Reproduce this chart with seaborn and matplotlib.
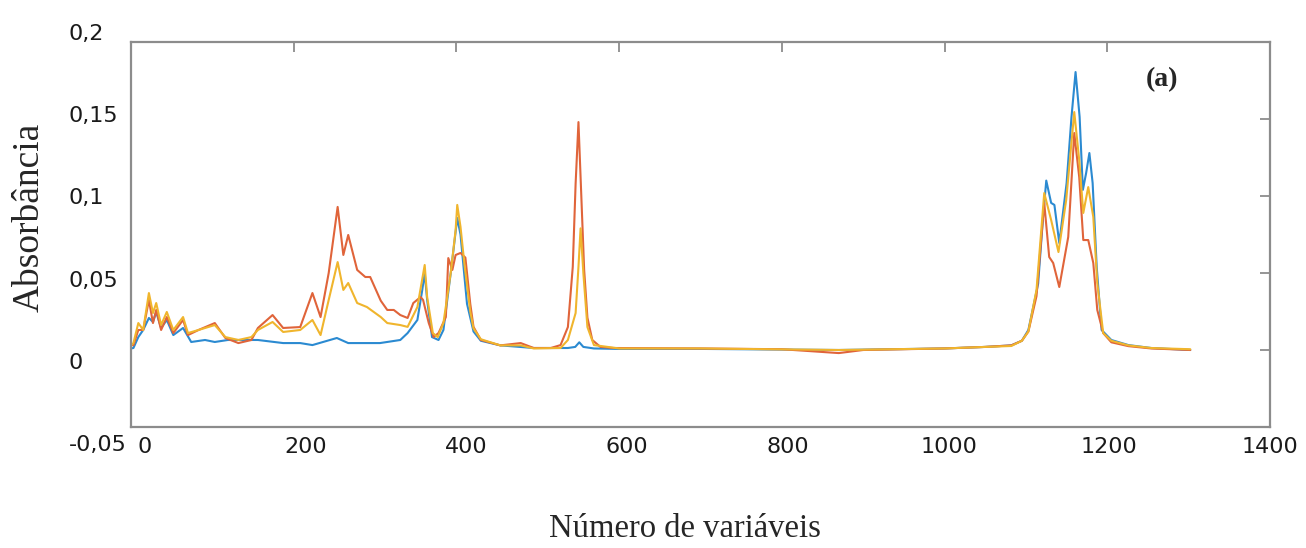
import matplotlib
matplotlib.use("Agg")
import pandas as pd
import matplotlib.pyplot as plt
import matplotlib.transforms as mtransforms
import seaborn as sns

# espectros (numero da variavel, absorbancia)
azul_x = [0, 3, 9, 15, 22, 27, 31, 37, 44, 52, 64, 74, 91, 103, 119, 156, 187, 208, 223, 253,
          267, 306, 331, 340, 352, 358, 361, 364, 370, 378, 384, 393, 401, 405, 413, 421, 430, 454, 495, 537,
          546, 551, 556, 569, 600, 700, 870, 1000, 1050, 1082, 1095, 1103, 1115, 1121, 1125, 1131, 1135, 1141, 1150, 1156, 1161,
          1166, 1170, 1174, 1178, 1182, 1187, 1193, 1205, 1226, 1254, 1302]
azul_y = [0.001, 0.0013, 0.0084, 0.013, 0.0208, 0.0182, 0.0247, 0.0143, 0.0195, 0.0097,
          0.0143, 0.0052, 0.0065, 0.0052, 0.0065, 0.0065, 0.0045, 0.0045, 0.0032, 0.0078,
          0.0045, 0.0045, 0.0065, 0.011, 0.0195, 0.039, 0.05, 0.0325, 0.0084, 0.0065,
          0.013, 0.05, 0.0857, 0.075, 0.03, 0.012, 0.006, 0.003, 0.0013, 0.0013,
          0.002, 0.005, 0.002, 0.001, 0.0007, 0.0007, 0.0, 0.001, 0.002, 0.003, 0.006,
          0.013, 0.043, 0.086, 0.110, 0.0955, 0.0942, 0.0695, 0.1084, 0.1513, 0.1805,
          0.1513, 0.104, 0.1149, 0.1279, 0.1084, 0.0539, 0.013, 0.0065, 0.0032, 0.0013, 0.0]

vermelho_x = [0, 3, 9, 15, 22, 27, 31, 37, 44, 52, 64, 70, 83, 103, 116, 132, 148, 156, 174, 187,
              208, 223, 233, 243, 254, 261, 267, 278, 288, 294, 307, 315, 323, 331, 340, 347, 356, 359, 366, 372,
              378, 387, 390, 395, 399, 405, 411, 417, 421, 430, 454, 479, 495, 516, 528, 537, 543, 546.5, 550, 553.5,
              557, 561, 567, 577, 593, 700, 800, 870, 900, 1000, 1050, 1082, 1095, 1103, 1113, 1122.5, 1128.6, 1133.5, 1141, 1152, 1159.4,
              1165.5, 1170.5, 1176.6, 1182.8, 1187.7, 1195, 1205, 1226, 1254, 1302]
vermelho_y = [0.003, 0.0032, 0.013, 0.013, 0.0325, 0.0175, 0.026, 0.013, 0.0214, 0.011,
              0.0195, 0.0097, 0.013, 0.0175, 0.0078, 0.0045, 0.0065, 0.0143, 0.0227, 0.0143,
              0.0149, 0.037, 0.0214, 0.05, 0.0929, 0.0617, 0.0747, 0.052, 0.0474, 0.0474,
              0.032, 0.026, 0.026, 0.0227, 0.0208, 0.0305, 0.0344, 0.0325, 0.0175, 0.0084,
              0.011, 0.0214, 0.0597, 0.052, 0.0617, 0.063, 0.06, 0.03, 0.015, 0.0065,
              0.003, 0.0045, 0.0013, 0.0013, 0.0032, 0.0149, 0.054, 0.108, 0.148, 0.100,
              0.052, 0.021, 0.0065, 0.002, 0.0013, 0.001, 0.0005, -0.002, 0.0, 0.001,
              0.002, 0.003, 0.006, 0.012, 0.035, 0.0955, 0.0604, 0.0565, 0.0409, 0.0734, 0.1409,
              0.1123, 0.0714, 0.0714, 0.0565, 0.026, 0.011, 0.005, 0.0025, 0.001, 0.0]

amarelo_x = [0, 3, 9, 15, 22, 27, 31, 37, 44, 52, 64, 70, 83, 103, 116, 132, 148, 156, 174, 187,
             208, 223, 233, 243, 254, 261, 267, 278, 290, 307, 315, 331, 340, 352, 361, 364, 371, 377, 384, 393,
             399, 401, 405, 410, 417, 421, 430, 454, 479, 495, 528, 537, 546.5, 550, 552.6, 556, 561, 569, 600, 700,
             870, 1000, 1050, 1082, 1095, 1103, 1113, 1122.5, 1131, 1140, 1149.5, 1159.4, 1165.5, 1170.5, 1176.6, 1182.8, 1187.7, 1195, 1205, 1226, 1254, 1302]
amarelo_y = [0.003, 0.0045, 0.0175, 0.013, 0.037, 0.024, 0.0305, 0.0162, 0.0247, 0.013,
             0.0214, 0.011, 0.013, 0.0162, 0.0084, 0.0065, 0.0084, 0.013, 0.0182, 0.0117,
             0.013, 0.0195, 0.0097, 0.0325, 0.0571, 0.039, 0.0435, 0.0305, 0.0279, 0.0214,
             0.0175, 0.0162, 0.015, 0.0279, 0.0552, 0.0344, 0.011, 0.0084, 0.0175, 0.05,
             0.0779, 0.0942, 0.08, 0.055, 0.025, 0.014, 0.007, 0.003, 0.003, 0.001,
             0.0013, 0.0065, 0.024, 0.054, 0.079, 0.05, 0.0149, 0.0032, 0.001, 0.001,
             0.0, 0.001, 0.002, 0.0026, 0.006, 0.012, 0.039, 0.1019, 0.0844, 0.0636, 0.0974, 0.1545,
             0.1234, 0.089, 0.1058, 0.0864, 0.0435, 0.011, 0.006, 0.003, 0.0013, 0.0005]

amostras = ["azul", "vermelho", "amarelo"]
cores = ["#2b8ad1", "#e0643a", "#f0b52d"]

xticks = [0, 200, 400, 600, 800, 1000, 1200, 1400]
yticks = [-0.05, 0, 0.05, 0.1, 0.15, 0.2]
ytick_labels = ["-0,05", "0", "0,05", "0,1", "0,15", "0,2"]

frames = []
for nome, xs, ys in zip(amostras, [azul_x, vermelho_x, amarelo_x], [azul_y, vermelho_y, amarelo_y]):
    frames.append(pd.DataFrame({"variavel": xs, "absorbancia": ys, "amostra": nome}))
df = pd.concat(frames, ignore_index=True)

sns.set_style("white")
plt.rcParams["font.family"] = ["DejaVu Sans"]

W, H = 1306, 548
fig = plt.figure(figsize=(W / 100, H / 100), dpi=100)
ax = fig.add_axes([131 / W, 1 - 427 / H, 1139 / W, 385 / H])

sns.lineplot(data=df, x="variavel", y="absorbancia", hue="amostra", hue_order=amostras,
             palette=cores, estimator=None, sort=False, linewidth=1.5, legend=False, ax=ax)

ax.set_xlim(0, 1400)
ax.set_ylim(-0.05, 0.2)
ax.set_xticks(xticks)
ax.set_xticklabels([str(v) for v in xticks])
ax.set_yticks(yticks)
ax.set_yticklabels(ytick_labels)

for s in ax.spines.values():
    s.set_color("#8c8c8c")
    s.set_linewidth(1.6)

ax.tick_params(axis="both", direction="in", length=7, width=1.3, color="#8c8c8c",
               top=True, right=True, labelsize=16, labelcolor="#1a1a1a")
ax.tick_params(axis="x", pad=7)
ax.tick_params(axis="y", pad=45)

# rotulos deslocados como no original
for lab, v in zip(ax.get_yticklabels(), yticks):
    k = (0.2 - v) / 0.05
    dy = -(-10 + 5.2 * k)
    lab.set_ha("left")
    lab.set_transform(lab.get_transform() + mtransforms.ScaledTranslation(0, dy / 100, fig.dpi_scale_trans))
for lab, v in zip(ax.get_xticklabels(), xticks):
    dx = 14 * (1 - v / 1400)
    lab.set_transform(lab.get_transform() + mtransforms.ScaledTranslation(dx / 100, 0, fig.dpi_scale_trans))

ax.set_xlabel("Número de variáveis", fontsize=23.5, family=["Liberation Serif"])
ax.set_ylabel("Absorbância", fontsize=27, family=["Liberation Serif"])
ax.xaxis.label.set_va("center")
ax.yaxis.label.set_va("center")
ax.xaxis.set_label_coords((685 - 131) / 1139, -(529 - 427) / 385)
ax.yaxis.set_label_coords((29 - 131) / 1139, (427 - 217) / 385)

ax.text((1162 - 131) / 1139, (427 - 80) / 385, "(a)", transform=ax.transAxes,
        ha="center", va="center", fontsize=20, fontweight="bold", family=["Liberation Serif"])

fig.savefig("out.png", dpi=100)
